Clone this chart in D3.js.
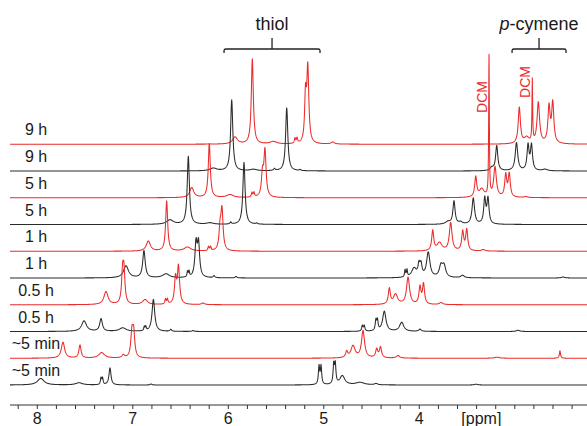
<!DOCTYPE html>
<html><head><meta charset="utf-8">
<script src="https://cdn.jsdelivr.net/npm/d3@7/dist/d3.min.js"></script>
<style>
body{margin:0;background:#fff;}
svg{display:block;}
text{font-family:"Liberation Sans",Arial,sans-serif;fill:#1a1a1a;}
</style>
</head><body>
<svg id="chart" width="587" height="426"></svg>
<script>
// ---- data (bottom trace first) ----
const traceLabels = ["~5 min","~5 min","0.5 h","0.5 h","1 h","1 h","5 h","5 h","9 h","9 h"];
const stackShiftPpm = 0.2267;   // horizontal offset between stacked spectra (ppm)
// peaks: [ppm, intensity (a.u.), half-width (ppm)]
const trace0 = [[7.964,6.5,0.042],[7.563,2.2,0.042],[7.333,6.5,0.007],[7.317,6.5,0.007],[7.239,17,0.0126],[6.809,1,0.01],
  [5.050,18,0.008],[5.029,18,0.008],[4.896,19,0.008],[4.880,19,0.008],[4.806,9,0.031],[4.621,2.5,0.052],[4.453,1.3,0.02],[3.406,0.8,0.02]];
const trace1 = [[7.958,16,0.021],[7.780,13,0.0136],[7.553,5.5,0.037],[7.326,3,0.0157],[7.236,24,0.0136],[7.218,24,0.0136],
  [4.987,6,0.0126],[4.921,12,0.026],[4.816,27,0.019],[4.673,8.5,0.0136],[4.633,10.5,0.0136],[4.450,2.5,0.021],[3.413,1,0.03],[2.754,7.5,0.007]];
const trace2 = [[7.964,10.5,0.031],[7.786,12.5,0.0168],[7.559,3.5,0.042],[7.333,4,0.006],[7.318,4,0.006],[7.238,32,0.0168],[7.056,2,0.01],[6.823,1,0.01],
  [5.050,5.5,0.008],[5.030,5.5,0.008],[4.908,10,0.008],[4.892,10,0.008],[4.820,20,0.021],[4.638,9,0.026],[4.446,2.2,0.0157],[3.420,1.2,0.021]];
const trace3 = [[7.961,13,0.026],[7.787,29,0.0126],[7.773,29,0.0126],[7.552,5,0.031],[7.338,5,0.007],[7.317,5,0.007],[7.233,25,0.0126],[7.202,37,0.0136],[6.945,1.5,0.02],
  [4.994,15.5,0.0126],[4.929,10,0.026],[4.798,27,0.019],[4.673,17,0.0126],[4.636,20,0.0126],[4.453,2,0.021]];
const trace4 = [[7.978,12,0.031],[7.790,27,0.0157],[7.559,4,0.042],[7.334,5.5,0.006],[7.318,5.5,0.006],[7.245,33,0.0136],[7.219,33,0.0136],[7.056,2,0.01],[6.826,1.5,0.01],
  [5.056,7,0.006],[5.036,7,0.006],[4.962,9,0.031],[4.910,11,0.0126],[4.889,11,0.0126],[4.813,25,0.021],[4.680,11,0.021],[4.648,11,0.021],[4.454,2.5,0.021],[3.402,1,0.02]];
const trace5 = [[7.971,10,0.026],[7.779,50,0.0126],[7.561,4,0.042],[7.341,4,0.007],[7.320,4,0.007],[7.220,20,0.0126],[7.200,40,0.0136],
  [4.993,20,0.0126],[4.922,8,0.031],[4.805,28,0.0168],[4.679,19,0.0126],[4.637,21,0.0126],[4.463,1.5,0.021]];
const trace6 = [[7.971,4.5,0.042],[7.779,68,0.0136],[7.552,1.5,0.042],[7.335,2,0.008],[7.196,62,0.0136],[7.063,1,0.01],
  [5.060,2.5,0.031],[4.997,23,0.0136],[4.927,2,0.021],[4.795,26,0.0157],[4.675,25,0.0126],[4.641,25,0.0126]];
const trace7 = [[7.970,10,0.026],[7.786,54,0.0126],[7.569,3,0.042],[7.339,4.5,0.007],[7.318,4.5,0.007],[7.229,22,0.0126],[7.203,46,0.0136],
  [4.996,20,0.0126],[4.933,8,0.031],[4.857,140,0.004],[4.794,30,0.0168],[4.682,22,0.0126],[4.645,23,0.0126],[4.471,1,0.02]];
const trace8 = [[7.971,2.7,0.042],[7.778,71,0.0136],[7.550,1.5,0.042],[7.330,2,0.01],[7.202,63,0.0136],[7.063,1,0.01],
  [5.056,3,0.021],[5.003,25,0.0136],[4.796,28,0.0157],[4.675,25,0.0126],[4.639,25,0.0126],[4.497,1.5,0.03]];
const trace9 = [[7.970,7,0.031],[7.789,85,0.0126],[7.569,2.5,0.042],[7.342,5,0.007],[7.321,5,0.007],[7.232,45,0.0105],[7.208,75,0.0126],[6.947,2,0.021],
  [4.993,36,0.0136],[4.916,6,0.031],[4.857,62,0.004],[4.794,41,0.0157],[4.682,36,0.0136],[4.643,40,0.0136]];
const traces = [trace0,trace1,trace2,trace3,trace4,trace5,trace6,trace7,trace8,trace9];

const axisTickLabels = [8,7,6,5,4];
const axisUnit = "[ppm]";
const dcmPpm = 4.857;
const dcmTraceIndex = [7, 9];
const dcmLabel = "DCM";
const groupNames = ["thiol", "p-cymene"];
const groupRanges = [[8.085, 7.080],[5.069, 4.504]];   // ppm range on top spectrum

// ---- layout ----
const svg = d3.select("#chart");
const x = d3.scaleLinear().domain([8.286, 2.244]).range([10, 587]);
const yStack = d3.scaleLinear().domain([0, 9]).range([385, 144.25]);
const yInt = d3.scaleLinear().domain([0, 100]).range([0, 100]);
const RED = "#ec2b2b", BLACK = "#2b2b2b";
const colorOf = k => (k % 2 === 1) ? RED : BLACK;

function intensity(peaks, ppm){
  let s = 0;
  for (const [c,h,g] of peaks){ const d = ppm - c; s += h*g*g/(d*d+g*g); }
  return s;
}

const line = d3.line().x(d => x(d.app)).y(d => d.y);
const [d0, d1] = x.domain();
for (let k = traces.length-1; k >= 0; k--){
  const shift = k*stackShiftPpm;
  let apps = d3.range(d1, d0, 0.0025);
  traces[k].forEach(p => { const a = p[0]-shift; if (a > d1 && a < d0) apps.push(a); });
  apps.push(d0);
  apps.sort((a,b)=>b-a);
  const pts = apps.map(a => ({app:a, y: yStack(k) - yInt(intensity(traces[k], a+shift))}));
  svg.append("path").attr("d", line(pts)).attr("fill","none")
     .attr("stroke", colorOf(k)).attr("stroke-width", 1.05).attr("stroke-linejoin","round");
  svg.append("text").attr("x", 36).attr("y", yStack(k) - 9)
     .attr("text-anchor","middle").attr("font-size", 16).text(traceLabels[k]);
}

// ---- axis ----
const axisY = 405;
svg.append("line").attr("x1", x(d0)).attr("x2", x(d1)).attr("y1", axisY).attr("y2", axisY)
   .attr("stroke","#333").attr("stroke-width",1);
const minor = d3.range(2.4, 8.21, 0.2);
svg.selectAll(".tk").data(minor).enter().append("line")
   .attr("x1", d=>x(d)).attr("x2", d=>x(d)).attr("y1", axisY).attr("y2", axisY+4)
   .attr("stroke","#333").attr("stroke-width",1);
svg.selectAll(".tl").data(axisTickLabels).enter().append("text")
   .attr("x", d=>x(d)).attr("y", 424).attr("text-anchor","middle").attr("font-size",16).text(d=>d);
svg.append("text").attr("x", x(3.35)).attr("y", 424).attr("text-anchor","middle").attr("font-size",16).text(axisUnit);

// ---- DCM labels ----
const dcmLabelY = [97, 82];
dcmTraceIndex.forEach((k,i) => {
  const lx = x(dcmPpm - k*stackShiftPpm);
  svg.append("text").attr("transform", `translate(${lx-2},${dcmLabelY[i]}) rotate(-90)`)
     .attr("text-anchor","middle").attr("font-size",14).style("fill",RED).text(dcmLabel);
});

// ---- group brackets ----
const topK = traces.length-1;
const brY = 49;
groupRanges.forEach((r,i) => {
  const xa = x(r[0]-topK*stackShiftPpm), xb = x(r[1]-topK*stackShiftPpm), xm = (xa+xb)/2;
  svg.append("path")
     .attr("d", `M${xa},${brY+4} L${xa},${brY+1.5} Q${xa},${brY} ${xa+2},${brY} L${xb-2},${brY} Q${xb},${brY} ${xb},${brY+1.5} L${xb},${brY+4} M${xm},${brY} L${xm},${brY-11}`)
     .attr("fill","none").attr("stroke","#222").attr("stroke-width",1.3);
  const t = svg.append("text").attr("x", xm).attr("y", 30).attr("text-anchor","middle").attr("font-size",18);
  if (groupNames[i].startsWith("p-")){
    t.append("tspan").attr("font-style","italic").text("p");
    t.append("tspan").text(groupNames[i].slice(1));
  } else t.text(groupNames[i]);
});
</script>
</body></html>
